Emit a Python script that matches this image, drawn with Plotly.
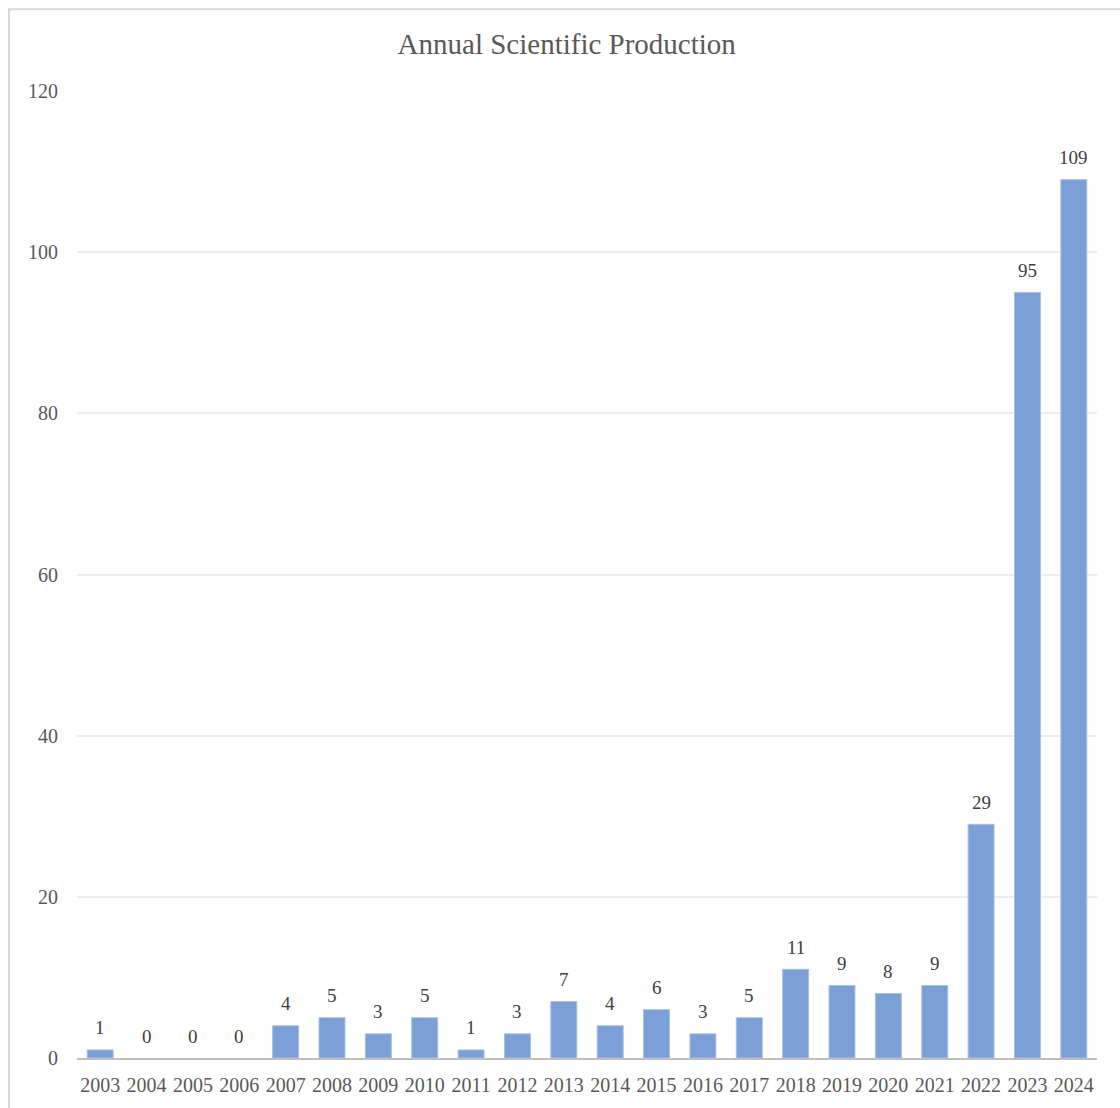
import plotly.graph_objects as go

# Annual publication counts
years = [str(y) for y in range(2003, 2025)]
counts = [1, 0, 0, 0, 4, 5, 3, 5, 1, 3, 7, 4, 6, 3, 5, 11, 9, 8, 9, 29, 95, 109]
y_ticks = [0, 20, 40, 60, 80, 100, 120]

FONT = "Liberation Serif, Times New Roman, serif"
TEXT_COLOR = "#595959"

fig = go.Figure()
fig.add_trace(go.Bar(
    x=years,
    y=counts,
    marker=dict(
        color="#7C9FD7",
        # no outline on empty years so they stay invisible
        line=dict(color="#A8BFE6", width=[1 if c > 0 else 0 for c in counts]),
    ),
    hoverinfo="x+y",
))

# value labels above each bar (category index positions)
for i, c in enumerate(counts):
    fig.add_annotation(
        x=i, y=c, text=str(c), showarrow=False,
        yanchor="middle", yshift=22,
        font=dict(family=FONT, size=19, color="#404040"),
    )

fig.update_layout(
    width=1120, height=1108,
    margin=dict(l=77, r=23, t=91, b=47),
    paper_bgcolor="white", plot_bgcolor="white",
    title=dict(
        text="Annual Scientific Production",
        x=0.506, xanchor="center", y=1 - 44 / 1108, yanchor="middle",
        font=dict(family=FONT, size=29, color=TEXT_COLOR),
    ),
    bargap=0.44,
    showlegend=False,
    font=dict(family=FONT, color=TEXT_COLOR),
    shapes=[dict(
        type="rect", xref="paper", yref="paper",
        x0=-68 / 1020, x1=1.2, y0=-0.2, y1=1 + 82 / 970,
        line=dict(color="#D9D9D9", width=2), fillcolor="rgba(0,0,0,0)",
        layer="below",
    )],
)

fig.update_xaxes(
    type="category",
    range=[-0.5, len(years) - 0.5],
    showline=True, linecolor="#BFBFBF", linewidth=2,
    showgrid=False, ticks="",
    tickfont=dict(family=FONT, size=20, color=TEXT_COLOR),
    ticklabelstandoff=8,
    tickangle=0,
)
fig.update_yaxes(
    range=[0, 120], tickvals=y_ticks,
    showgrid=True, gridcolor="#EDEDED", gridwidth=2,
    zeroline=False, showline=False, ticks="",
    tickfont=dict(family=FONT, size=20, color=TEXT_COLOR),
    ticklabelstandoff=18,
)

fig.write_html("out.html")
